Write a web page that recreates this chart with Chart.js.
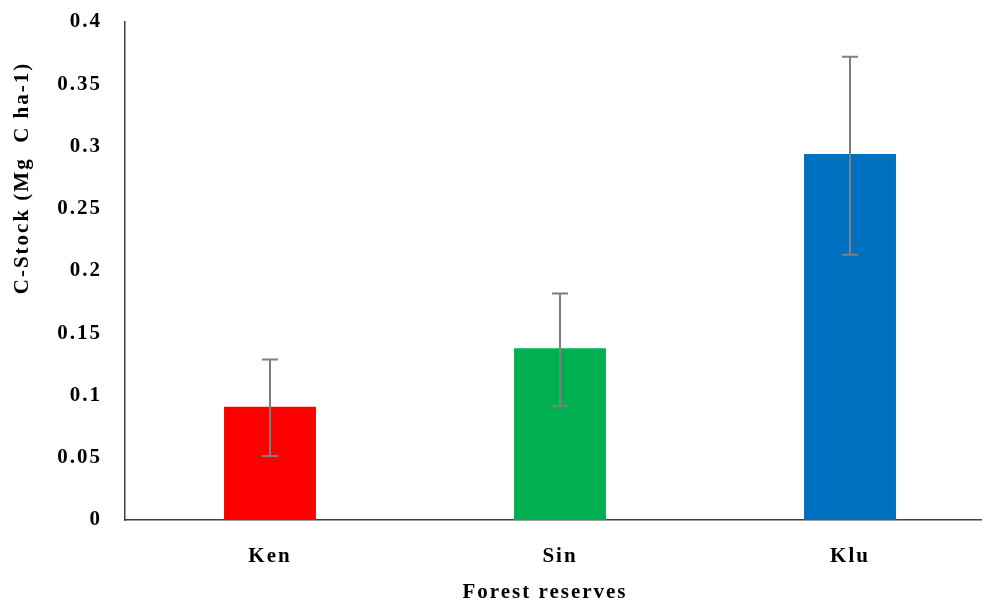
<!DOCTYPE html>
<html>
<head>
<meta charset="utf-8">
<script src="https://cdn.jsdelivr.net/npm/chart.js@4"></script>
<style>
  html, body { margin: 0; padding: 0; background: #fff; overflow: hidden; }
  #wrap { width: 982px; height: 604px; overflow: hidden; }
</style>
</head>
<body>
<div id="wrap"><canvas id="carbonChart" width="1000" height="604"></canvas></div>
<script>
// Data
const reserves = ['Ken', 'Sin', 'Klu'];
const carbonStock = [0.091, 0.138, 0.294];
const errLow = [0.0515, 0.0915, 0.213];
const errHigh = [0.129, 0.182, 0.372];
const barColors = ['#FF0000', '#00B050', '#0070C0'];
const yTicks = [0, 0.05, 0.1, 0.15, 0.2, 0.25, 0.3, 0.35, 0.4];

const FONT = "'Liberation Serif', 'Times New Roman', serif";
const SPACING = '2px';

// wider letter spacing, the original text is set loose
const spacingPlugin = {
    id: 'spacing',
    beforeLayout(chart) { chart.ctx.letterSpacing = SPACING; },
    beforeDraw(chart) { chart.ctx.letterSpacing = SPACING; }
};

// Error bars drawn through the scales
const errorBarPlugin = {
    id: 'errorBars',
    afterDatasetsDraw(chart) {
        const ctx = chart.ctx;
        const x = chart.scales.x, y = chart.scales.y;
        ctx.save();
        ctx.strokeStyle = '#7F7F7F';
        ctx.lineWidth = 2;
        reserves.forEach(function (r, i) {
            const cx = x.getPixelForValue(i);
            const top = y.getPixelForValue(errHigh[i]);
            const bot = y.getPixelForValue(errLow[i]);
            ctx.beginPath();
            ctx.moveTo(cx, top); ctx.lineTo(cx, bot);
            ctx.moveTo(cx - 8, top); ctx.lineTo(cx + 8, top);
            ctx.moveTo(cx - 8, bot); ctx.lineTo(cx + 8, bot);
            ctx.stroke();
        });
        ctx.restore();
    }
};

// Axis titles (placed as in the original figure)
const axisTitlePlugin = {
    id: 'axisTitles',
    afterDraw(chart) {
        const ctx = chart.ctx;
        ctx.save();
        ctx.letterSpacing = SPACING;
        ctx.fillStyle = '#000';
        ctx.font = 'bold 21px ' + FONT;
        ctx.textAlign = 'center';
        ctx.textBaseline = 'middle';
        ctx.fillText('Forest reserves', 545, 593);
        ctx.translate(23, 178);
        ctx.rotate(-Math.PI / 2);
        ctx.fillText('C-Stock (Mg  C ha-1)', 0, 0);
        ctx.restore();
    }
};

new Chart(document.getElementById('carbonChart'), {
    type: 'bar',
    data: {
        labels: reserves,
        datasets: [{
            data: carbonStock,
            backgroundColor: barColors,
            borderWidth: 0,
            categoryPercentage: 1,
            barPercentage: 0.317
        }]
    },
    options: {
        responsive: false,
        animation: false,
        layout: { padding: { top: 22, right: 5, left: 0, bottom: 0 } },
        plugins: { legend: { display: false }, tooltip: { enabled: false } },
        scales: {
            x: {
                grid: { display: false, drawTicks: false },
                border: { display: true, color: '#404040', width: 1.5 },
                ticks: { color: '#000', padding: 24, font: { family: FONT, size: 21, weight: 'bold' } },
                afterFit(scale) { scale.height = 84; scale.paddingLeft = 0; scale.paddingRight = 0; }
            },
            y: {
                min: 0,
                max: 0.4,
                grid: { display: false, drawTicks: false },
                border: { display: true, color: '#404040', width: 1.5 },
                afterBuildTicks(scale) { scale.ticks = yTicks.map(v => ({ value: v })); },
                ticks: {
                    color: '#000',
                    padding: 23,
                    font: { family: FONT, size: 21, weight: 'bold' },
                    callback: v => String(+v.toFixed(2))
                },
                afterFit(scale) { scale.width = 125; scale.paddingTop = 0; scale.paddingBottom = 0; }
            }
        }
    },
    plugins: [spacingPlugin, errorBarPlugin, axisTitlePlugin]
});
</script>
</body>
</html>
